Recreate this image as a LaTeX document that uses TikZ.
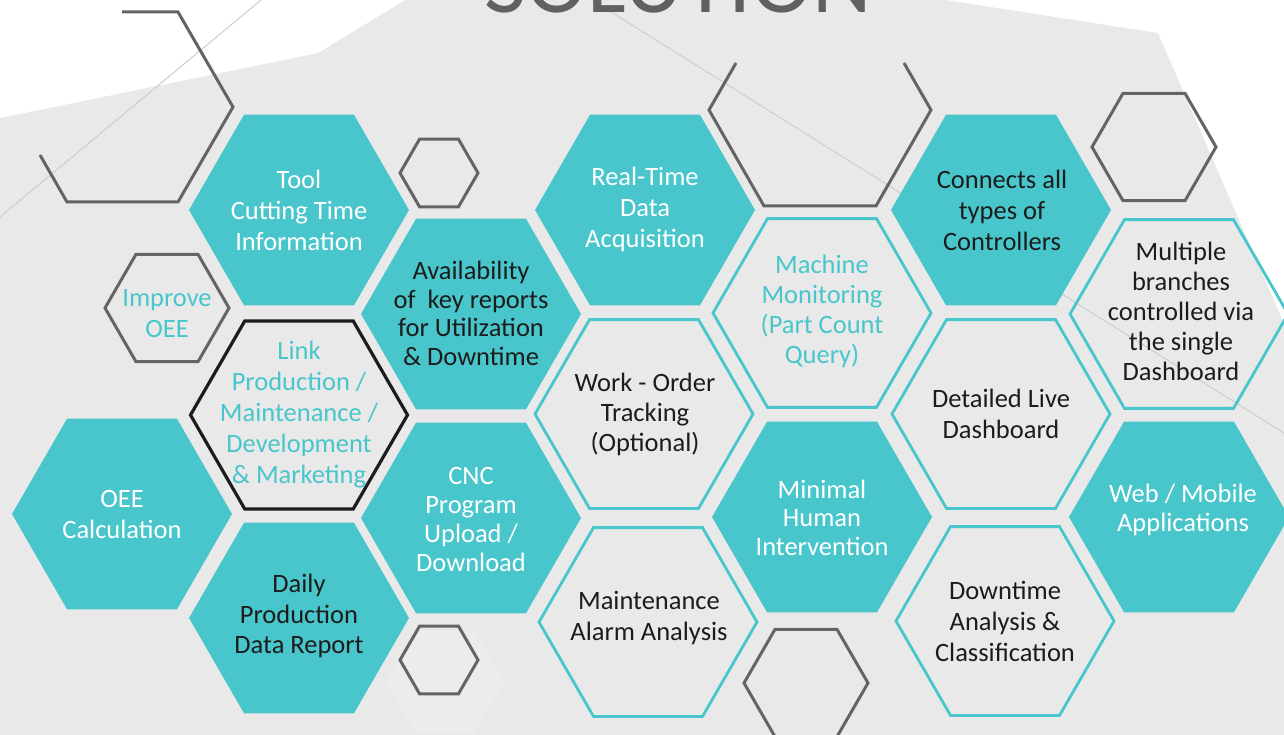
\documentclass[tikz,border=0pt]{standalone}
\usepackage{fontspec}
\setmainfont{Carlito}
\definecolor{tealhx}{RGB}{72,198,203}
\definecolor{bggray}{RGB}{233,233,233}
\definecolor{faintgray}{RGB}{236,236,236}
\definecolor{hexgray}{RGB}{100,100,100}
\definecolor{txtdark}{RGB}{28,28,28}
\definecolor{linegray}{RGB}{205,205,205}
\definecolor{titlegray}{RGB}{96,96,96}
\newcommand{\hexat}[4][]{\path[#1] (#2,#3) ++(#4pt,0) -- ++(120:#4pt) -- ++(180:#4pt) -- ++(240:#4pt) -- ++(300:#4pt) -- ++(0:#4pt) -- cycle;}
\tikzset{
  tealfill/.style={fill=tealhx},
  ringline/.style={draw=tealhx, line width=2.8pt, line join=miter},
  blackline/.style={draw=txtdark, line width=3.2pt, line join=miter},
  grayline/.style={draw=hexgray, line width=3pt, line join=miter},
  txt/.style={align=center, inner sep=0pt, font=\fontsize{26.5}{31}\selectfont},
  wtxt/.style={txt, text=white},
  dtxt/.style={txt, text=txtdark},
  ttxt/.style={txt, text=tealhx},
  bs/.style={font=\fontsize{26.5}{#1}\selectfont}
}
\begin{document}
\begin{tikzpicture}[x=1pt,y=-1pt]
\useasboundingbox (0,0) rectangle (1284,735);
\clip (0,0) rectangle (1284,735);
% background
\fill[bggray] (0,0) rectangle (1284,735);
\fill[white] (0,0) -- (405,0) -- (318,53) -- (0,118) -- cycle;
\fill[white] (946,0) -- (1158,33) -- (1284,323) -- (1284,0) -- cycle;
\draw[linegray, line width=1pt] (0,217) -- (261,0);
\draw[linegray, line width=1pt] (592,0) -- (1284,433);
\hexat[fill=faintgray]{445}{682}{59}
% decorative partial hexagons
\draw[grayline] (122,12) -- (178,12) -- (233,107) -- (178,202) -- (67,202) -- (40,155);
\draw[grayline] (736,63) -- (709,110) -- (764,206) -- (876,206) -- (931,110) -- (904,63);
% small gray hexagons
\hexat[grayline]{439}{173}{39}
\hexat[grayline]{439}{660}{39}
\hexat[grayline]{167}{308}{62}
\hexat[grayline]{1154}{147}{62}
\hexat[grayline]{806}{683}{62}
% teal filled hexagons
\hexat[tealfill]{299}{210}{110}
\hexat[tealfill]{645}{210}{110}
\hexat[tealfill]{1001}{210}{110}
\hexat[tealfill]{471}{314}{110}
\hexat[tealfill]{122}{514}{110}
\hexat[tealfill]{299}{618}{110}
\hexat[tealfill]{471}{518}{110}
\hexat[tealfill]{822}{517}{110}
\hexat[tealfill]{1179}{517}{110}
% outlined hexagons
\hexat[ringline]{644}{414}{109}
\hexat[ringline]{648}{622}{109}
\hexat[ringline]{822}{313}{109}
\hexat[ringline]{1001}{414}{109}
\hexat[ringline]{1005}{621}{109}
\hexat[ringline]{1179}{314}{109}
\hexat[blackline]{299}{415}{108.5}
% texts
\node[wtxt] (tool) at (299,213) {\strut Tool\\\strut Cutting Time\\\strut Information};
\node[wtxt] (realtime) at (645,210) {\strut Real-Time\\\strut Data\\\strut Acquisition};
\node[dtxt] (connects) at (1002,213) {\strut Connects all\\\strut types of\\\strut Controllers};
\node[ttxt] (improve) at (167,316) {\strut Improve\\\strut OEE};
\node[dtxt, bs=28.5] (avail) at (471,317) {\strut Availability\\\strut of\ \ key reports\\\strut for Utilization\\\strut \& Downtime};
\node[ttxt] (link) at (299,415) {\strut Link\\\strut Production /\\\strut Maintenance /\\\strut Development\\\strut \& Marketing};
\node[wtxt] (oee) at (122,517) {\strut OEE\\\strut Calculation};
\node[dtxt, bs=30.5] (daily) at (299,617) {\strut Daily\\\strut Production\\\strut Data Report};
\node[wtxt, bs=29] (cnc) at (471,522) {\strut CNC\\\strut Program\\\strut Upload /\\\strut Download};
\node[dtxt, bs=30] (work) at (645,415) {\strut Work - Order\\\strut Tracking\\\strut (Optional)};
\node[dtxt] (maint) at (649,619) {\strut Maintenance\\\strut Alarm Analysis};
\node[ttxt, bs=30] (machine) at (822,312) {\strut Machine\\\strut Monitoring\\\strut (Part Count\\\strut Query)};
\node[wtxt, bs=28.5] (minimal) at (822,521) {\strut Minimal\\\strut Human\\\strut Intervention};
\node[dtxt] (detailed) at (1001,417) {\strut Detailed Live\\\strut Dashboard};
\node[dtxt] (downtime) at (1005,624) {\strut Downtime\\\strut Analysis \&\\\strut Classification};
\node[dtxt, bs=30] (multiple) at (1181,314) {\strut Multiple\\\strut branches\\\strut controlled via\\\strut the single\\\strut Dashboard};
\node[wtxt, bs=29] (web) at (1183,511) {\strut Web / Mobile\\\strut Applications};
% title (cut off at top, as in the reference)
\node[anchor=base, inner sep=0pt, text=titlegray, font=\fontsize{92}{92}\selectfont] (title) at (678,13) {SOLUTION};
\end{tikzpicture}
\end{document}
